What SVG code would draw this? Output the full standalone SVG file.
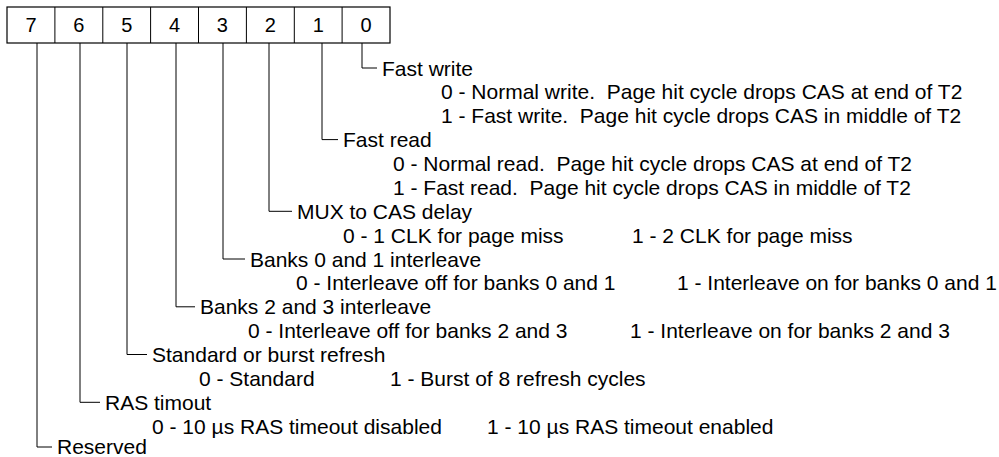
<svg xmlns="http://www.w3.org/2000/svg" width="999" height="457" viewBox="0 0 999 457">
<style>
text{font-family:"Liberation Sans",Arial,Helvetica,sans-serif;font-size:21px;fill:#000;white-space:pre}
.digit{font-size:20px;text-anchor:middle}
.box{fill:#fff;stroke:#000;stroke-width:1.2}
.div{stroke:#000;stroke-width:1}
.conn{fill:none;stroke:#000;stroke-width:1}
</style>
<rect width="999" height="457" fill="#fff"/>
<g id="register">
<rect class="box" x="7" y="7" width="383" height="36"/>
<path class="div" d="M54.9,7V43M102.8,7V43M150.6,7V43M198.5,7V43M246.4,7V43M294.3,7V43M342.1,7V43"/>
<text class="digit" x="31" y="32">7</text>
<text class="digit" x="78.8" y="32">6</text>
<text class="digit" x="126.7" y="32">5</text>
<text class="digit" x="174.5" y="32">4</text>
<text class="digit" x="222.4" y="32">3</text>
<text class="digit" x="270.3" y="32">2</text>
<text class="digit" x="318.2" y="32">1</text>
<text class="digit" x="366" y="32">0</text>
</g>
<g id="connectors">
<path class="conn" d="M362,43V68H377"/>
<path class="conn" d="M322,43V139.6H338"/>
<path class="conn" d="M269,43V211.3H292"/>
<path class="conn" d="M223,43V259H245"/>
<path class="conn" d="M176,43V306.8H195"/>
<path class="conn" d="M127,43V354.5H147"/>
<path class="conn" d="M80,43V402.3H100"/>
<path class="conn" d="M37,43V447H52"/>
</g>
<g id="bit0">
<text x="382" y="75.5">Fast write</text>
<text x="441" y="99.4">0 - Normal write.  Page hit cycle drops CAS at end of T2</text>
<text x="441" y="123.3">1 - Fast write.  Page hit cycle drops CAS in middle of T2</text>
</g>
<g id="bit1">
<text x="343" y="147.1">Fast read</text>
<text x="393" y="171">0 - Normal read.  Page hit cycle drops CAS at end of T2</text>
<text x="393" y="194.9">1 - Fast read.  Page hit cycle drops CAS in middle of T2</text>
</g>
<g id="bit2">
<text x="297" y="218.8">MUX to CAS delay</text>
<text x="343" y="242.6">0 - 1 CLK for page miss</text>
<text x="632" y="242.6">1 - 2 CLK for page miss</text>
</g>
<g id="bit3">
<text x="250" y="266.5">Banks 0 and 1 interleave</text>
<text x="296" y="290.4">0 - Interleave off for banks 0 and 1</text>
<text x="677" y="290.4">1 - Interleave on for banks 0 and 1</text>
</g>
<g id="bit4">
<text x="200" y="314.3">Banks 2 and 3 interleave</text>
<text x="248" y="338.1">0 - Interleave off for banks 2 and 3</text>
<text x="630" y="338.1">1 - Interleave on for banks 2 and 3</text>
</g>
<g id="bit5">
<text x="152" y="362">Standard or burst refresh</text>
<text x="199" y="385.9">0 - Standard</text>
<text x="390" y="385.9">1 - Burst of 8 refresh cycles</text>
</g>
<g id="bit6">
<text x="105" y="409.8">RAS timout</text>
<text x="152" y="433.6">0 - 10 µs RAS timeout disabled</text>
<text x="487" y="433.6">1 - 10 µs RAS timeout enabled</text>
</g>
<g id="bit7">
<text x="57" y="454">Reserved</text>
</g>
</svg>
